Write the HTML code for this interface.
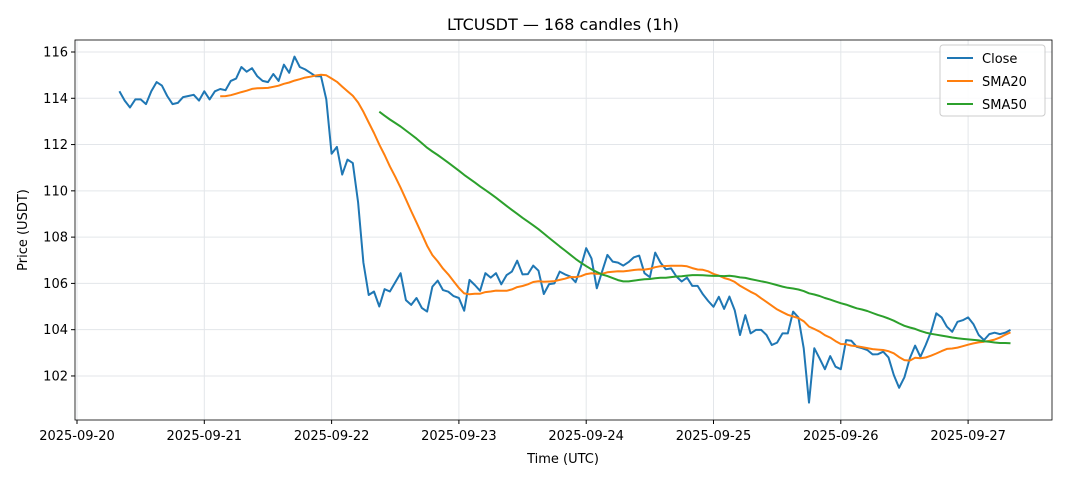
<!DOCTYPE html>
<html><head><meta charset="utf-8"><style>
body{margin:0;background:#fff;font-family:"Liberation Sans","DejaVu Sans",sans-serif}
text{font-family:"DejaVu Sans","Liberation Sans",sans-serif}
</style></head><body>
<svg id="chart" width="1068" height="481" xmlns="http://www.w3.org/2000/svg">
<rect width="1068" height="481" fill="#fff"/>
<g id="grid"></g>
<g id="series"></g>
<rect x="75" y="40" width="977" height="380" fill="none" stroke="#000" stroke-width="0.8"/>
<g id="axes"></g>
<text x="563" y="30" text-anchor="middle" font-size="16">LTCUSDT — 168 candles (1h)</text>
<text x="563" y="463" text-anchor="middle" font-size="13">Time (UTC)</text>
<text x="27" y="230" text-anchor="middle" font-size="13" transform="rotate(-90 27 230)">Price (USDT)</text>
<g>
<rect x="940" y="45" width="105" height="71" rx="3" fill="#fff" fill-opacity="0.85" stroke="#ccc"/>
<line x1="947" y1="58" x2="973" y2="58" stroke="#1f77b4" stroke-width="2"/>
<text x="982" y="63" font-size="13">Close</text>
<line x1="947" y1="81" x2="973" y2="81" stroke="#ff7f0e" stroke-width="2"/>
<text x="982" y="86" font-size="13">SMA20</text>
<line x1="947" y1="104" x2="973" y2="104" stroke="#2ca02c" stroke-width="2"/>
<text x="982" y="109" font-size="13">SMA50</text>
</g>
</svg>
<script>
const closeValues=[114.3,113.9,113.6,113.95,113.95,113.75,114.3,114.7,114.55,114.1,113.75,113.8,114.05,114.1,114.15,113.9,
114.3,113.95,114.3,114.4,114.35,114.75,114.85,115.35,115.15,115.3,114.95,114.75,114.7,115.05,114.75,115.45,115.1,115.8,115.35,115.25,115.1,114.95,114.95,
113.95,111.6,111.9,110.7,111.35,111.2,109.5,106.9,105.5,105.65,105.0,105.75,105.65,106.05,
106.44,105.28,105.07,105.37,104.94,104.78,105.86,106.12,105.71,105.64,105.45,105.37,104.82,106.15,105.93,105.68,106.44,106.25,106.44,105.96,106.36,106.51,106.98,106.39,106.4,106.77,106.55,105.54,105.97,106.0,106.51,106.39,106.3,106.05,106.72,107.52,107.08,105.79,106.51,107.23,106.94,106.9,106.77,106.92,107.13,107.2,106.44,106.27,107.33,106.9,106.61,106.65,106.3,106.08,106.25,105.89,105.89,105.53,105.24,104.99,105.42,104.9,
105.43,104.84,103.77,104.63,103.84,103.99,103.99,103.77,103.34,103.44,103.84,103.84,104.78,104.53,103.2,100.85,103.2,102.76,102.29,102.86,102.4,102.29,103.55,103.52,103.26,103.2,103.12,102.93,102.94,103.05,102.8,102.04,101.49,101.94,102.76,103.31,102.83,103.34,103.91,104.71,104.53,104.13,103.91,104.34,104.41,104.53,104.24,103.77,103.55,103.81,103.87,103.81,103.87,103.99];
const startHour=8; // 2025-09-20 08:00 UTC
const xTickLabels=["2025-09-20","2025-09-21","2025-09-22","2025-09-23","2025-09-24","2025-09-25","2025-09-26","2025-09-27"];
const yTickValues=[102,104,106,108,110,112,114,116];

const NS="http://www.w3.org/2000/svg";
const xScale=h=>77+h*127.3/24;
const yScale=v=>52+(116-v)*23.14;
function sma(arr,n){return arr.map((v,i)=>i<n-1?null:arr.slice(i-n+1,i+1).reduce((a,b)=>a+b,0)/n);}
function mk(tag,attrs,parent){const e=document.createElementNS(NS,tag);for(const k in attrs)e.setAttribute(k,attrs[k]);parent.appendChild(e);return e;}
const grid=document.getElementById('grid'),axes=document.getElementById('axes'),series=document.getElementById('series');
xTickLabels.forEach((lab,d)=>{const x=xScale(d*24);
 const g=mk('line',{x1:x,x2:x,y1:40,y2:420,stroke:'#e3e6ea','stroke-width':1},grid);
 
 
 mk('line',{x1:x,x2:x,y1:420,y2:424,stroke:'#000'},axes);
 const t=mk('text',{x:x,y:440,'text-anchor':'middle','font-size':13},axes);t.textContent=lab;
 
 
});
yTickValues.forEach(v=>{const y=yScale(v);
 const g=mk('line',{x1:75,x2:1052,y1:y,y2:y,stroke:'#e3e6ea','stroke-width':1},grid);
 
 
 mk('line',{x1:71,x2:75,y1:y,y2:y,stroke:'#000'},axes);
 const t=mk('text',{x:68,y:y+4.5,'text-anchor':'end','font-size':13},axes);t.textContent=v;
 
 
});
function line(vals,color,name){let d='';vals.forEach((v,i)=>{if(v==null)return;d+=(d?'L':'M')+xScale(startHour+i).toFixed(1)+','+yScale(v).toFixed(1);});
 const p=mk('path',{d:d,fill:'none',stroke:color,'stroke-width':2,'stroke-linejoin':'round'},series);
 
 
}
line(closeValues,'#1f77b4','close-line');
line(sma(closeValues,20),'#ff7f0e','sma20-line');
line(sma(closeValues,50),'#2ca02c','sma50-line');
</script>
</body></html>
